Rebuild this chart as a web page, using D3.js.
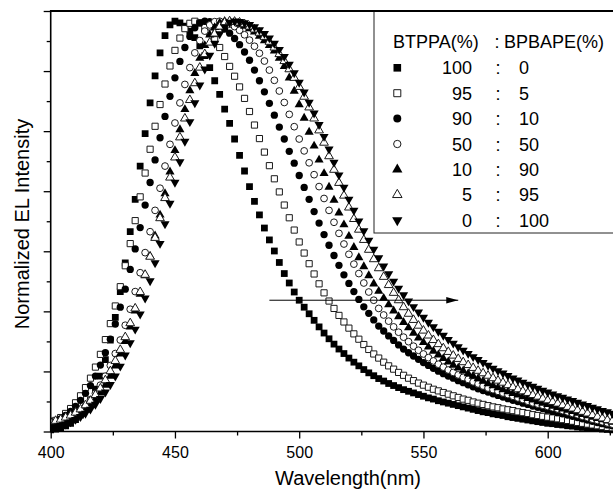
<!DOCTYPE html>
<html>
<head>
<meta charset="utf-8">
<script src="https://cdnjs.cloudflare.com/ajax/libs/d3/7.8.5/d3.min.js"></script>
<style>
  body { margin: 0; background: #fff; }
  svg { display: block; font-family: "Liberation Sans", Arial, sans-serif; }
</style>
</head>
<body>
<svg id="chart" width="613" height="491"></svg>
<script>
// wavelength grid (nm)
const wavelength = [
  400, 402, 404, 406, 408, 410, 412, 414, 416, 418,
  420, 422, 424, 426, 428, 430, 432, 434, 436, 438,
  440, 442, 444, 446, 448, 450, 452, 454, 456, 458,
  460, 462, 464, 466, 468, 470, 472, 474, 476, 478,
  480, 482, 484, 486, 488, 490, 492, 494, 496, 498,
  500, 502, 504, 506, 508, 510, 512, 514, 516, 518,
  520, 522, 524, 526, 528, 530, 532, 534, 536, 538,
  540, 542, 544, 546, 548, 550, 552, 554, 556, 558,
  560, 562, 564, 566, 568, 570, 572, 574, 576, 578,
  580, 582, 584, 586, 588, 590, 592, 594, 596, 598,
  600, 602, 604, 606, 608, 610, 612, 614, 616, 618,
  620, 622, 624, 626];

// normalized EL intensity (%) for each BTPPA : BPBAPE ratio
const el_100_0 = [
  0.4, 0.6, 0.9, 1.4, 2.0, 2.9, 4.0, 5.6, 7.7, 10.3,
  13.5, 17.5, 22.3, 27.8, 34.1, 41.1, 48.7, 56.6, 64.7, 72.6,
  80.1, 86.7, 92.3, 96.5, 99.1, 100, 99.6, 98.8, 97.6, 96.0,
  94.0, 91.6, 88.7, 85.5, 82.2, 78.6, 75.1, 71.3, 67.3, 63.5,
  59.7, 56.1, 52.8, 49.6, 46.7, 44.0, 41.2, 38.5, 36.2, 34.0,
  32.0, 30.3, 28.7, 27.1, 25.5, 24.0, 22.6, 21.3, 20.1, 19.0,
  17.9, 16.9, 16.0, 15.1, 14.3, 13.6, 12.9, 12.3, 11.7, 11.2,
  10.7, 10.2, 9.8, 9.4, 9.0, 8.6, 8.2, 7.9, 7.5, 7.2,
  6.9, 6.6, 6.3, 6.0, 5.7, 5.4, 5.1, 4.8, 4.6, 4.3,
  4.1, 3.9, 3.6, 3.4, 3.2, 3.0, 2.8, 2.6, 2.4, 2.2,
  2.0, 1.9, 1.7, 1.6, 1.4, 1.3, 1.1, 1.0, 0.9, 0.8,
  0.7, 0.6, 0.5, 0.4];
const el_95_5 = [
  2.0, 2.7, 3.4, 4.4, 5.6, 7.0, 8.7, 10.7, 13.0, 15.7,
  18.8, 22.4, 26.3, 30.6, 35.3, 40.4, 45.8, 51.4, 57.2, 63.0,
  68.8, 74.4, 79.7, 84.7, 89.1, 92.9, 95.9, 98.2, 99.5, 100,
  99.6, 98.6, 97.1, 95.5, 93.6, 91.4, 89.0, 86.6, 84.0, 81.2,
  78.0, 74.7, 71.4, 68.1, 64.8, 61.6, 58.4, 55.2, 52.1, 49.1,
  46.2, 43.5, 40.9, 38.4, 36.0, 33.8, 31.8, 30.0, 28.3, 26.7,
  25.2, 23.8, 22.5, 21.2, 20.0, 18.9, 17.9, 16.9, 16.0, 15.2,
  14.4, 13.7, 13.0, 12.4, 11.8, 11.3, 10.8, 10.3, 9.9, 9.5,
  9.1, 8.7, 8.3, 7.9, 7.6, 7.2, 6.9, 6.6, 6.3, 6.0,
  5.8, 5.5, 5.3, 5.1, 4.8, 4.6, 4.4, 4.1, 3.9, 3.7,
  3.5, 3.3, 3.1, 2.9, 2.7, 2.5, 2.2, 2.0, 1.8, 1.6,
  1.4, 1.2, 1.0, 0.9];
const el_90_10 = [
  1.9, 2.4, 3.1, 3.9, 4.9, 6.1, 7.6, 9.3, 11.2, 13.5,
  16.2, 19.2, 22.5, 26.2, 30.3, 34.7, 39.5, 44.5, 49.7, 55.2,
  60.7, 66.2, 71.6, 76.8, 81.7, 86.2, 90.2, 93.6, 96.3, 98.4,
  99.6, 100, 99.9, 99.5, 98.9, 98.1, 97.1, 95.8, 94.3, 92.5,
  90.5, 88.1, 85.5, 82.8, 80.0, 77.1, 74.2, 71.3, 68.3, 65.4,
  62.4, 59.5, 56.6, 53.6, 50.8, 48.0, 45.4, 42.9, 40.5, 38.2,
  36.1, 34.1, 32.2, 30.4, 28.8, 27.2, 25.7, 24.5, 23.3, 22.2,
  21.1, 20.1, 19.2, 18.4, 17.6, 16.8, 16.1, 15.4, 14.7, 14.1,
  13.5, 13.0, 12.4, 11.9, 11.4, 10.9, 10.4, 10.0, 9.6, 9.2,
  8.8, 8.4, 8.0, 7.6, 7.3, 6.9, 6.6, 6.2, 5.9, 5.6,
  5.2, 4.9, 4.6, 4.3, 4.0, 3.7, 3.4, 3.1, 2.8, 2.5,
  2.2, 1.9, 1.6, 1.4];
const el_50_50 = [
  1.2, 1.5, 2.0, 2.5, 3.2, 4.0, 5.0, 6.2, 7.7, 9.3,
  11.3, 13.5, 16.1, 19.0, 22.3, 25.9, 29.8, 34.1, 38.7, 43.6,
  48.7, 53.9, 59.3, 64.7, 70.0, 75.2, 80.1, 84.6, 88.7, 92.3,
  95.3, 97.6, 99.1, 99.9, 100, 99.8, 99.3, 98.7, 97.8, 96.7,
  95.4, 93.9, 92.2, 90.3, 88.1, 85.6, 83.0, 80.2, 77.3, 74.3,
  71.3, 68.4, 65.5, 62.6, 59.7, 56.8, 53.9, 51.0, 48.3, 45.7,
  43.2, 40.8, 38.5, 36.2, 34.0, 32.0, 30.0, 28.4, 26.9, 25.5,
  24.2, 23.0, 21.9, 20.8, 19.8, 18.9, 18.0, 17.2, 16.4, 15.7,
  15.0, 14.4, 13.8, 13.2, 12.7, 12.1, 11.6, 11.1, 10.6, 10.2,
  9.8, 9.4, 9.0, 8.6, 8.2, 7.8, 7.4, 7.0, 6.7, 6.4,
  6.1, 5.8, 5.5, 5.1, 4.8, 4.4, 4.1, 3.7, 3.4, 3.0,
  2.7, 2.4, 2.1, 1.8];
const el_10_90 = [
  1.0, 1.3, 1.6, 2.1, 2.6, 3.3, 4.2, 5.2, 6.4, 7.8,
  9.4, 11.3, 13.5, 16.0, 18.9, 22.0, 25.5, 29.4, 33.5, 38.0,
  42.7, 47.7, 52.8, 58.0, 63.3, 68.5, 73.6, 78.5, 83.1, 87.3,
  91.0, 94.1, 96.7, 98.5, 99.6, 100, 99.9, 99.7, 99.3, 98.8,
  98.2, 97.4, 96.4, 95.3, 94.1, 92.8, 91.0, 89.0, 86.2, 83.0,
  79.7, 76.4, 73.0, 69.6, 66.2, 62.9, 59.6, 56.4, 53.3, 50.4,
  47.6, 44.9, 42.4, 40.2, 38.0, 36.0, 34.2, 32.5, 30.9, 29.4,
  28.0, 26.6, 25.3, 24.0, 22.8, 21.7, 20.6, 19.6, 18.7, 17.8,
  17.0, 16.2, 15.5, 14.8, 14.1, 13.5, 12.9, 12.3, 11.7, 11.2,
  10.7, 10.2, 9.7, 9.3, 8.9, 8.5, 8.1, 7.7, 7.3, 6.9,
  6.6, 6.2, 5.9, 5.5, 5.2, 4.9, 4.5, 4.2, 3.9, 3.5,
  3.2, 2.9, 2.6, 2.3];
const el_5_95 = [
  2.3, 2.6, 2.9, 3.4, 3.9, 4.6, 5.4, 6.4, 7.5, 8.9,
  10.5, 12.5, 14.7, 17.2, 19.9, 23.0, 26.4, 30.0, 34.0, 38.2,
  42.6, 47.2, 52.0, 56.9, 61.9, 66.8, 71.7, 76.3, 80.8, 84.9,
  88.7, 92.0, 94.8, 97.0, 98.7, 99.7, 100, 99.9, 99.7, 99.3,
  98.7, 98.0, 97.2, 96.2, 95.0, 93.6, 92.0, 90.3, 88.3, 86.2,
  84.0, 81.6, 79.0, 76.3, 73.4, 70.4, 67.1, 63.8, 60.6, 57.5,
  54.6, 51.8, 49.2, 46.7, 44.3, 42.0, 39.8, 37.7, 35.7, 33.8,
  32.0, 30.3, 28.7, 27.2, 25.8, 24.6, 23.4, 22.3, 21.3, 20.3,
  19.4, 18.5, 17.7, 16.9, 16.2, 15.5, 14.8, 14.2, 13.6, 13.0,
  12.4, 11.9, 11.3, 10.8, 10.3, 9.8, 9.4, 8.9, 8.5, 8.0,
  7.6, 7.2, 6.8, 6.4, 6.0, 5.6, 5.2, 4.8, 4.4, 4.0,
  3.6, 3.2, 2.8, 2.5];
const el_0_100 = [
  0.9, 1.1, 1.4, 1.8, 2.3, 2.9, 3.6, 4.4, 5.4, 6.6,
  8.0, 9.6, 11.4, 13.5, 15.9, 18.6, 21.6, 24.9, 28.6, 32.5,
  36.7, 41.1, 45.8, 50.6, 55.6, 60.7, 65.7, 70.7, 75.5, 80.1,
  84.4, 88.3, 91.7, 94.6, 96.9, 98.6, 99.7, 100, 99.9, 99.6,
  99.2, 98.6, 97.9, 97.0, 95.9, 94.6, 93.1, 91.4, 89.5, 87.4,
  85.1, 82.7, 80.2, 77.6, 74.8, 71.9, 68.8, 65.6, 62.5, 59.5,
  56.6, 53.9, 51.3, 48.9, 46.6, 44.4, 42.3, 40.3, 38.4, 36.6,
  34.9, 33.3, 31.8, 30.4, 29.1, 27.8, 26.6, 25.5, 24.4, 23.4,
  22.4, 21.5, 20.6, 19.8, 19.0, 18.2, 17.5, 16.8, 16.1, 15.4,
  14.8, 14.2, 13.6, 13.0, 12.5, 12.0, 11.5, 11.0, 10.5, 10.0,
  9.6, 9.1, 8.7, 8.3, 7.9, 7.5, 7.1, 6.7, 6.3, 5.9,
  5.5, 5.1, 4.8, 4.4];

// legend labels
const btppa = ["100", "95", "90", "50", "10", "5", "0"];
const bpbape = ["0", "5", "10", "50", "90", "95", "100"];

// axis ticks
const xTicksMajor = [400, 450, 500, 550, 600];
const xTicksMinor = [425, 475, 525, 575, 625];

// red-shift arrow (nm, %)
const arrowFrom = [488, 32];
const arrowTo = [564, 32];

const series = [
  { values: el_100_0, type: d3.symbolSquare, size: 46, filled: true },
  { values: el_95_5, type: d3.symbolSquare, size: 38, filled: false },
  { values: el_90_10, type: d3.symbolCircle, size: 42, filled: true },
  { values: el_50_50, type: d3.symbolCircle, size: 36, filled: false },
  { values: el_10_90, type: d3.symbolTriangle, size: 36, filled: true },
  { values: el_5_95, type: d3.symbolTriangle, size: 33, filled: false },
  { values: el_0_100, type: d3.symbolTriangle, size: 36, filled: true, down: true }
];

const svg = d3.select("#chart");

// scales
const x = d3.scaleLinear().domain([400, 650]).range([50.7, 50.7 + 250 * 2.485]);
const y = d3.scaleLinear().domain([0, 102.5]).range([431.5, 11]);
const yStep = 102.5 / 7;
const yTicksMajor = d3.range(0, 8).map(i => i * yStep);
const yTicksMinor = d3.range(0, 7).map(i => (i + 0.5) * yStep);

// clip + arrow head
const defs = svg.append("defs");
defs.append("clipPath").attr("id", "plotClip")
  .append("rect").attr("x", x(400)).attr("y", 0).attr("width", 700).attr("height", 435);

defs.append("marker")
  .attr("id", "arrowHead")
  .attr("viewBox", "0 0 12 8")
  .attr("refX", 12).attr("refY", 4)
  .attr("markerWidth", 12).attr("markerHeight", 8)
  .attr("markerUnits", "userSpaceOnUse")
  .attr("orient", "auto")
  .append("path").attr("d", "M0,0.8L12,4L0,7.2Z").attr("fill", "#000");

// markers
const plot = svg.append("g").attr("clip-path", "url(#plotClip)");
series.forEach(s => {
  plot.append("g")
    .selectAll("path")
    .data(wavelength.map((w, i) => [w, s.values[i]]))
    .join("path")
    .attr("transform", d => `translate(${x(d[0])},${y(d[1])})` + (s.down ? " rotate(180)" : ""))
    .attr("d", d3.symbol(s.type, s.size))
    .attr("fill", s.filled ? "#000" : "#fff")
    .attr("stroke", s.filled ? "none" : "#1a1a1a")
    .attr("stroke-width", 1);
});

// arrow
svg.append("line")
  .attr("x1", x(arrowFrom[0])).attr("y1", y(arrowFrom[1]))
  .attr("x2", x(arrowTo[0])).attr("y2", y(arrowTo[1]))
  .attr("stroke", "#000").attr("stroke-width", 1)
  .attr("marker-end", "url(#arrowHead)");

// x axis
const xAxis = svg.append("g")
  .attr("transform", `translate(0,${y(0)})`)
  .call(d3.axisBottom(x).tickValues(xTicksMajor).tickSize(7).tickPadding(8).tickFormat(d3.format("d")));
xAxis.select(".domain").remove();
xAxis.selectAll("line").attr("stroke-width", 1.3);
xAxis.selectAll("text").attr("font-size", 16).attr("font-family", "Liberation Sans, Arial, sans-serif").attr("fill", "#000");

const xMinor = svg.append("g")
  .attr("transform", `translate(0,${y(0)})`)
  .call(d3.axisBottom(x).tickValues(xTicksMinor).tickSize(4).tickFormat(""));
xMinor.select(".domain").remove();
xMinor.selectAll("line").attr("stroke-width", 1.3);

// y axis
const yAxis = svg.append("g")
  .attr("transform", `translate(${x(400)},0)`)
  .call(d3.axisLeft(y).tickValues(yTicksMajor).tickSize(7).tickFormat(""));
yAxis.select(".domain").remove();
yAxis.selectAll("line").attr("stroke-width", 1.3);

const yMinor = svg.append("g")
  .attr("transform", `translate(${x(400)},0)`)
  .call(d3.axisLeft(y).tickValues(yTicksMinor).tickSize(4).tickFormat(""));
yMinor.select(".domain").remove();
yMinor.selectAll("line").attr("stroke-width", 1.3);

// legend box
const legend = svg.append("g");
legend.append("rect")
  .attr("x", 374).attr("y", y(102.5))
  .attr("width", 300).attr("height", 222)
  .attr("fill", "#fff").attr("stroke", "#222").attr("stroke-width", 1);

legend.append("text").attr("x", 393).attr("y", 48.3)
  .attr("font-size", 18).text("BTPPA(%)");
legend.append("text").attr("x", 497).attr("y", 48.3)
  .attr("font-size", 18).attr("text-anchor", "middle").text(":");
legend.append("text").attr("x", 504).attr("y", 48.3)
  .attr("font-size", 18).text("BPBAPE(%)");

series.forEach((s, i) => {
  const by = 74.3 + i * 25.4;
  const big = s.type === d3.symbolTriangle ? 46 : (s.type === d3.symbolCircle ? 50 : 58);
  legend.append("path")
    .attr("transform", `translate(397.3,${by - 6.5})` + (s.down ? " rotate(180)" : ""))
    .attr("d", d3.symbol(s.type, s.filled ? big : big * 0.85))
    .attr("fill", s.filled ? "#000" : "#fff")
    .attr("stroke", s.filled ? "none" : "#1a1a1a")
    .attr("stroke-width", 1);
  legend.append("text").attr("x", 472).attr("y", by)
    .attr("font-size", 18).attr("text-anchor", "end").text(btppa[i]);
  legend.append("text").attr("x", 498).attr("y", by)
    .attr("font-size", 18).attr("text-anchor", "middle").text(":");
  legend.append("text").attr("x", 519).attr("y", by)
    .attr("font-size", 18).text(bpbape[i]);
});

// frame lines
svg.append("line")
  .attr("x1", x(400)).attr("x2", 613).attr("y1", y(0)).attr("y2", y(0))
  .attr("stroke", "#000").attr("stroke-width", 1.6);
svg.append("line")
  .attr("x1", x(400)).attr("x2", 613).attr("y1", y(102.5)).attr("y2", y(102.5))
  .attr("stroke", "#000").attr("stroke-width", 2);
svg.append("line")
  .attr("x1", x(400)).attr("x2", x(400)).attr("y1", y(102.5) - 1).attr("y2", y(0) + 0.8)
  .attr("stroke", "#000").attr("stroke-width", 1.6);

// axis titles
svg.append("text")
  .attr("x", 348).attr("y", 485)
  .attr("font-size", 20).attr("text-anchor", "middle")
  .text("Wavelength(nm)");
svg.append("text")
  .attr("transform", "translate(29,224) rotate(-90)")
  .attr("font-size", 20).attr("text-anchor", "middle")
  .text("Normalized EL Intensity");
</script>
</body>
</html>
